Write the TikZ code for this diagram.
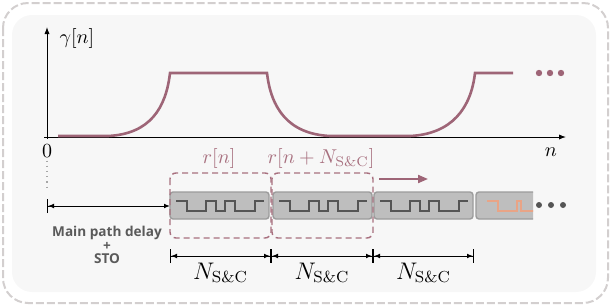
\documentclass[tikz,border=0pt]{standalone}
\usepackage{fontspec}
\newfontfamily\notefont{Open Sans}
\usetikzlibrary{arrows.meta,calc}

\definecolor{mauve}{HTML}{9E6577}
\definecolor{lightmauve}{HTML}{A8707F}
\definecolor{bgfill}{HTML}{F7F7F7}
\definecolor{frame}{HTML}{D3CFCF}
\definecolor{blockfill}{HTML}{BEBEBE}
\definecolor{blockedge}{HTML}{9C9C9C}
\definecolor{wavegray}{HTML}{555555}
\definecolor{waveorange}{HTML}{E9A486}
\definecolor{notegray}{HTML}{5A5A5A}

\tikzset{
	gamma/.style={mauve, line width=1.3pt},
	block/.style={fill=blockfill, draw=blockedge, line width=0.7pt, rounded corners=1.5pt},
	wave/.style={wavegray, line width=0.8pt},
	window/.style={lightmauve, dash pattern=on 3pt off 2pt, line width=0.7pt, rounded corners=3pt},
	measure/.style={{Bar[width=7pt]Latex[length=3pt,width=2.4pt]}-{Latex[length=3pt,width=2.4pt]Bar[width=7pt]}, line width=0.5pt},
}

\begin{document}
\begin{tikzpicture}[x=0.5pt, y=-0.5pt]
		\useasboundingbox (0,0) rectangle (612,306);
		\draw [frame, line width=1pt, dash pattern=on 4pt off 1.5pt, rounded corners=12.5pt] (3,3) rectangle (608,303);
		\fill [bgfill, rounded corners=10pt] (12,15) rectangle (596,292);

		\draw [-{Latex[length=3.5pt,width=2.6pt]}, line width=0.5pt] (47,139) -- (47,27);
		\draw [-{Latex[length=3.5pt,width=2.6pt]}, line width=0.5pt] (44,137) -- (566,137);
		\node (gam) at (77,38) {$\gamma[n]$};
		\node (zero) at (47,151) {$0$};
		\node (nlab) at (551,152) {$n$};

		\draw [gamma] (58,136) -- (108,136) .. controls (150,134) and (166,108) .. (170,73) -- (267,73)
			.. controls (271,108) and (288,134) .. (330,136) -- (410,136)
			.. controls (452,134) and (471,108) .. (475,73) -- (513,73);
		\foreach \x in {539,550,561}
			\fill [mauve] (\x,73) circle (1.6pt);

		\draw [gray!70, dotted, line width=0.6pt] (zero.south) ++(0,-4) -- (47,190);

		\foreach \x in {170,273,374}
			\draw [block] (\x,192) rectangle ++(99,27);
		\foreach \x in {170,273,374}
			\draw [wave] (\x+6,201) -- ++(11,0) -- ++(0,10) -- ++(19,0) -- ++(0,-10) -- ++(10,0) -- ++(0,10)
				-- ++(9,0) -- ++(0,-10) -- ++(10,0) -- ++(0,10) -- ++(20,0) -- ++(0,-10) -- ++(9,0);
		\begin{scope}
			\clip (470,185) rectangle (533,226);
			\draw [block] (476,192) rectangle ++(99,27);
			\draw [waveorange, line width=0.8pt] (487,201) -- ++(11,0) -- ++(0,10) -- ++(19,0) -- ++(0,-10)
				-- ++(4,0) -- ++(0,10) -- ++(15,0);
		\end{scope}
		\foreach \x in {539,551,563}
			\fill [wavegray] (\x,205) circle (1.5pt);

		\draw [window] (170,173) rectangle (271,238);
		\draw [window] (272,173) rectangle (373,238);
		\node [lightmauve] (rn) at (219,158) {$r[n]$};
		\node [lightmauve] (rnN) at (321,158) {$r[n+N_{\mathrm{S\&C}}]$};
		\coordinate (slideA) at (379,179);
		\coordinate (slideB) at (428,179);
		\draw [mauve, line width=1pt, -{Triangle[length=5pt,width=4pt]}] (slideA) -- (slideB);

		\coordinate (start) at (47,206);
		\coordinate (first) at (170,206);
		\draw [{Bar[width=7pt]Latex[length=3pt,width=2.4pt]}-{Latex[length=3pt,width=2.4pt]}, line width=0.5pt] (start) -- (first);
		\node [notegray, align=center, font=\notefont\bfseries\fontsize{6.8}{6.6}\selectfont] (delay) at (107,245) {Main path delay\\+\\STO};

		\foreach \i/\x in {0/170,1/271,2/373,3/474}
			\coordinate (m\i) at (\x,256);
		\foreach \i/\j in {0/1,1/2,2/3} {
			\draw [measure] (m\i) -- (m\j);
			\node [font=\large] (len\i) at ($(m\i)!0.5!(m\j)+(0,17)$) {$N_{\mathrm{S\&C}}$};
		}
	\end{tikzpicture}
\end{document}
